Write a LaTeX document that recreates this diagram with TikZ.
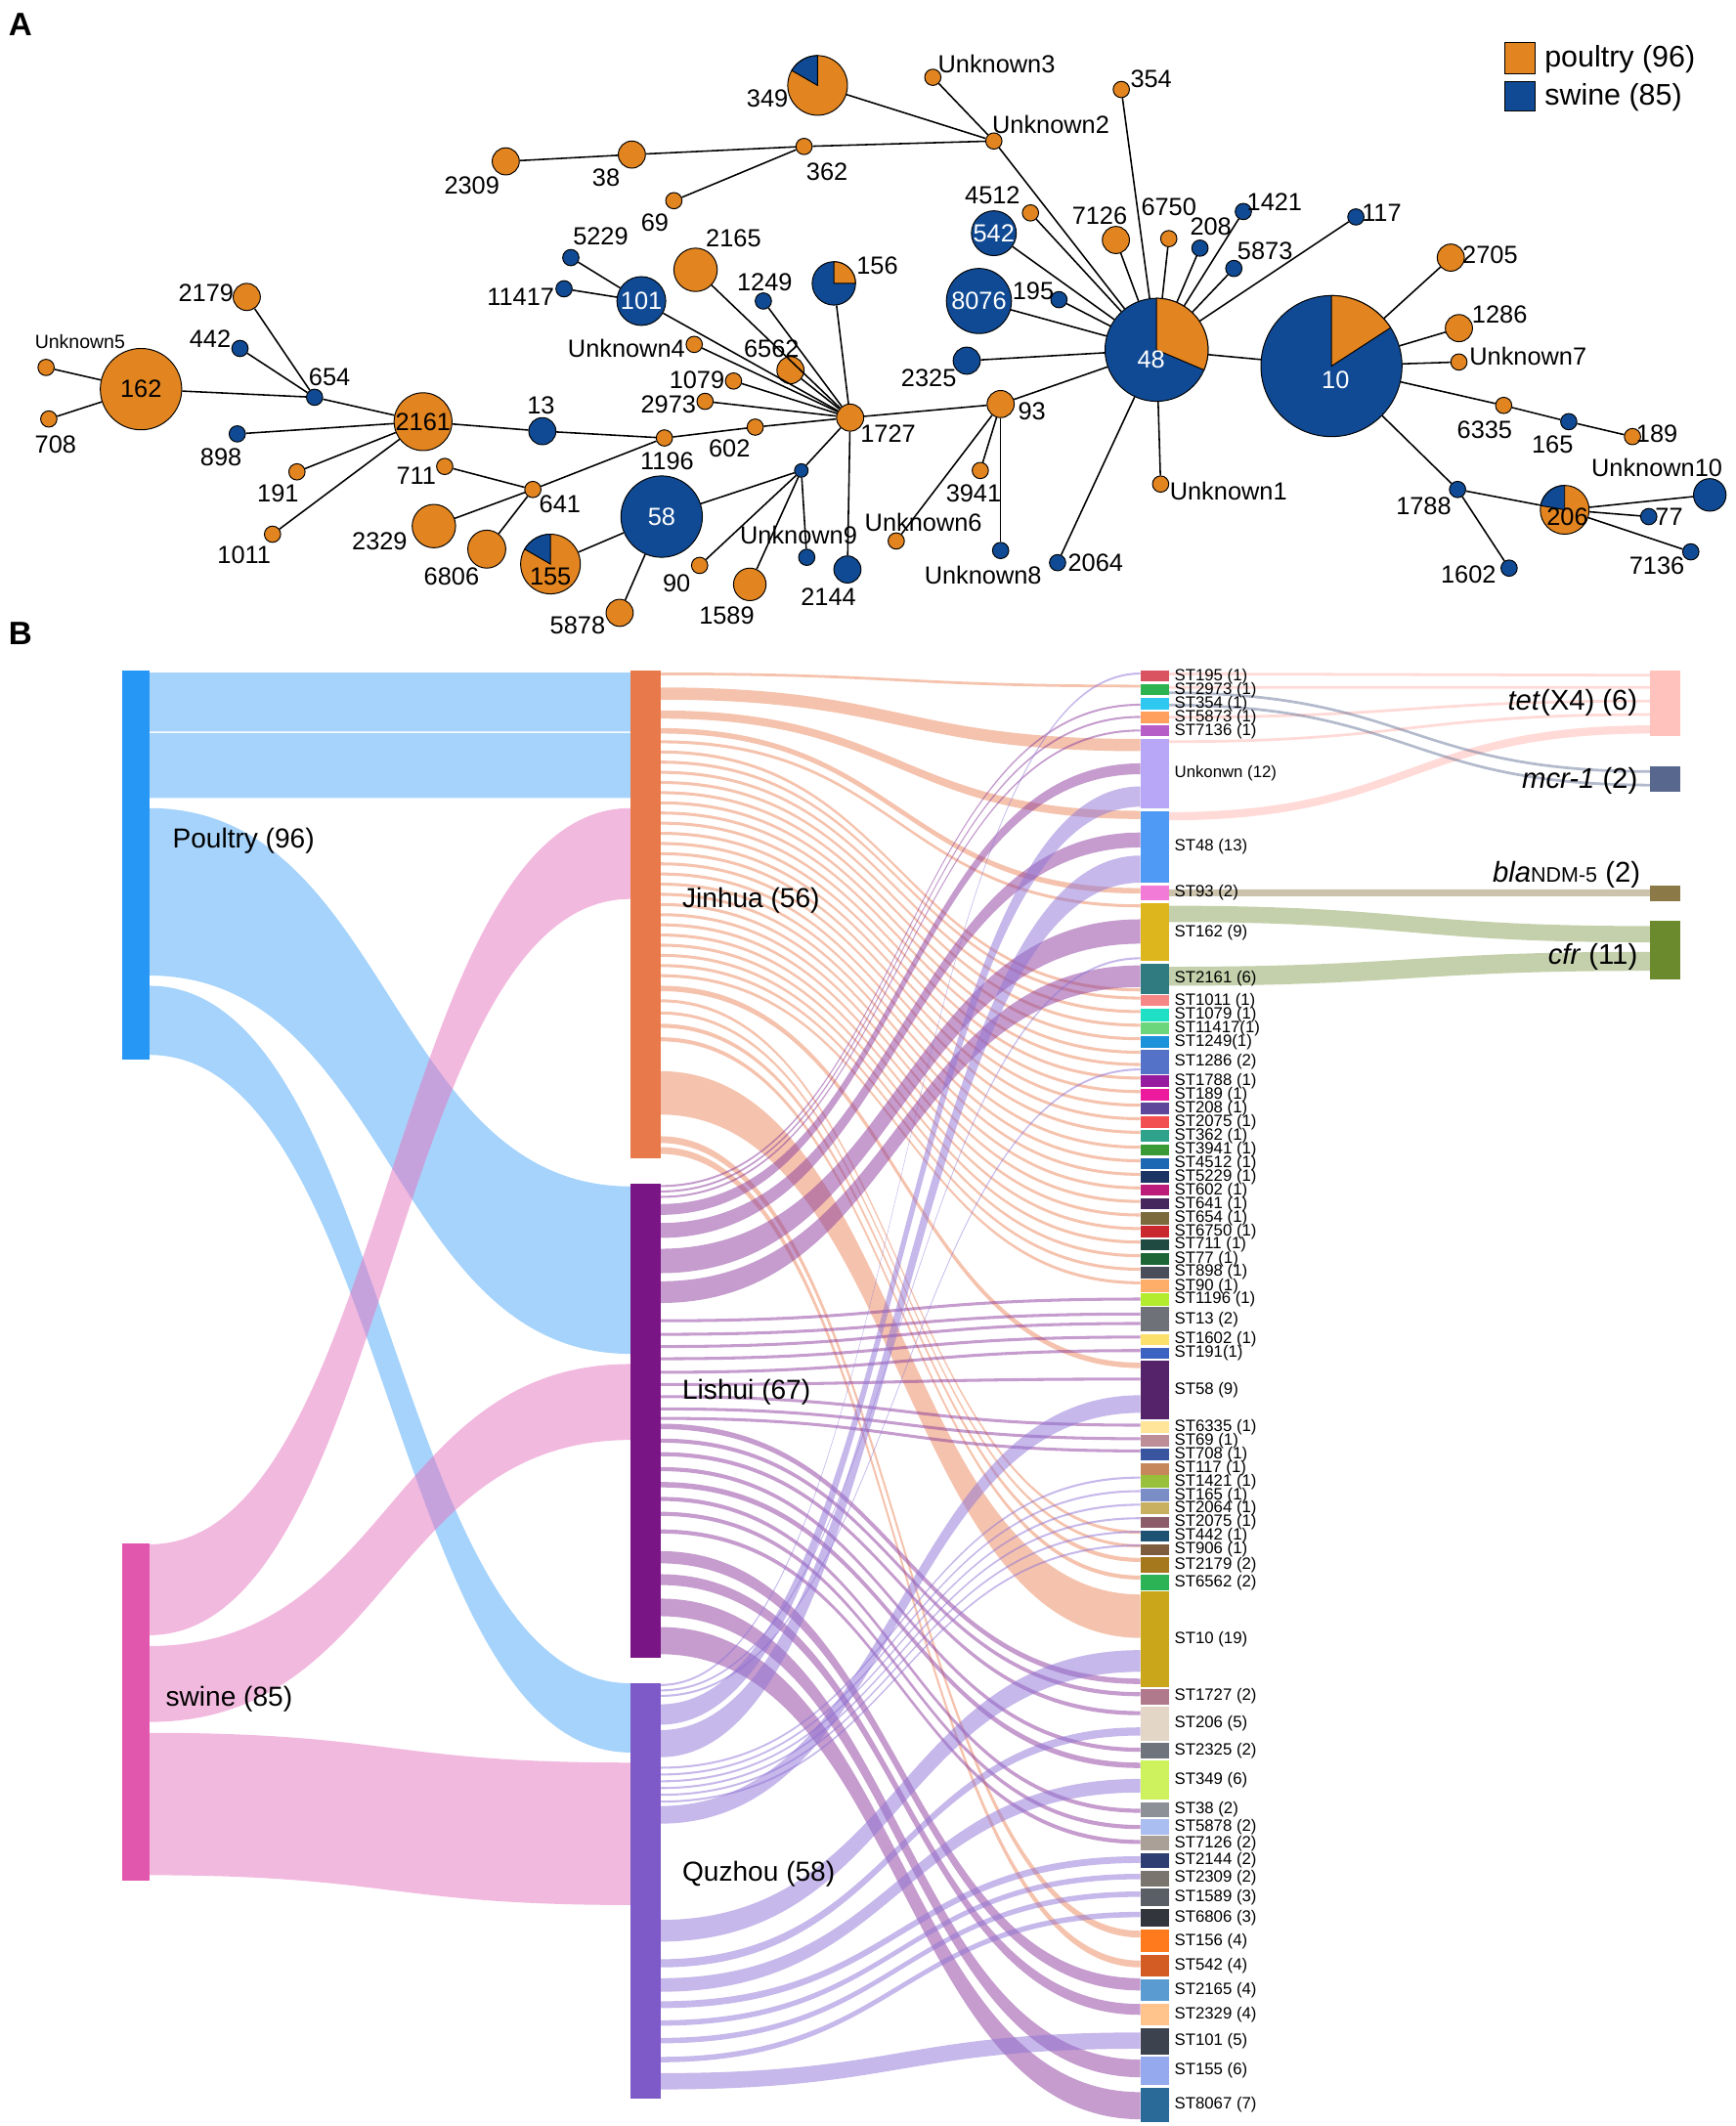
\documentclass[tikz,border=0pt]{standalone}
\usepackage{fontspec}
\setmainfont{Liberation Sans}

\definecolor{poultry}{HTML}{E2841F}
\definecolor{swine}{HTML}{104A94}
\definecolor{pbar}{HTML}{2697F5}
\definecolor{sbar}{HTML}{E157AE}
\definecolor{pflow}{HTML}{4DA8F7}
\definecolor{sflow}{HTML}{E673C0}
\definecolor{jbar}{HTML}{E8794A}
\definecolor{lbar}{HTML}{7A1585}
\definecolor{qbar}{HTML}{7E5AC8}
\definecolor{lflow}{HTML}{8B3A9C}
\definecolor{qflow}{HTML}{8E72D6}
\definecolor{tetc}{HTML}{FFC2BC}
\definecolor{mcrc}{HTML}{57678E}
\definecolor{blac}{HTML}{8B7A48}
\definecolor{cfrc}{HTML}{6B8A2E}

\newcommand{\netfont}{\fontsize{13}{15}\selectfont}
\newcommand{\unkfont}{\fontsize{10}{12}\selectfont}
\newcommand{\stfont}{\fontsize{8.6}{9}\selectfont}
\newcommand{\sankeyfont}{\fontsize{14.4}{17}\selectfont}
\newcommand{\genefont}{\fontsize{15}{18}\selectfont}

% band between two columns: x1, y1 (top), x2, y2 (top), width, style
\newcommand{\band}[6]{%
  \pgfmathsetmacro{\bxm}{(#1+#3)/2}%
  \pgfmathsetmacro{\bya}{#2+#5}%
  \pgfmathsetmacro{\byb}{#4+#5}%
  \fill[#6] (#1,#2) .. controls (\bxm,#2) and (\bxm,#4) .. (#3,#4) -- (#3,\byb) .. controls (\bxm,\byb) and (\bxm,\bya) .. (#1,\bya) -- cycle;}

% pie slice on a network node: node, radius, start, end, colour
\newcommand{\pieslice}[5]{%
  \filldraw[fill=#5, draw=black, line width=0.5pt] (#1.center) -- ++(#3:#2) arc[start angle=#3, end angle=#4, radius=#2] -- cycle;}

\tikzset{
  pn/.style={circle, draw=black, line width=0.5pt, fill=poultry, inner sep=0pt, minimum size=#1*0.05cm, font=\netfont},
  sn/.style={circle, draw=black, line width=0.5pt, fill=swine, inner sep=0pt, minimum size=#1*0.05cm, font=\netfont, text=white},
  nlink/.style={line width=0.8pt},
  lab/.style={font=\netfont, inner sep=0pt},
  stlab/.style={font=\stfont, inner sep=0pt, anchor=west},
  sankeytext/.style={font=\sankeyfont, inner sep=0pt, anchor=west},
  genetext/.style={font=\genefont, inner sep=0pt, anchor=east},
  pf/.style={fill=pflow, fill opacity=0.5},
  sf/.style={fill=sflow, fill opacity=0.5},
  jf/.style={fill=jbar, fill opacity=0.45},
  lf/.style={fill=lflow, fill opacity=0.5},
  qf/.style={fill=qflow, fill opacity=0.5},
  tf/.style={fill=tetc, fill opacity=0.6},
  mf/.style={fill=mcrc, fill opacity=0.45},
  bf/.style={fill=blac, fill opacity=0.45},
  cf/.style={fill=cfrc, fill opacity=0.4},
}

\begin{document}
\begin{tikzpicture}[x=0.025cm, y=-0.025cm]
\useasboundingbox (0,0) rectangle (1280,1568);

\node[font=\bfseries\fontsize{17}{17}\selectfont, inner sep=0pt] (pa) at (15,18) {A};
\node[font=\bfseries\fontsize{17}{17}\selectfont, inner sep=0pt] (pb) at (15,467) {B};

%% A: minimum spanning tree
% poultry nodes
\node[pn=22] (n349) at (603,63) {};
\node[pn=6] (u3) at (688,57) {};
\node[pn=6] (u2) at (733,104) {};
\node[pn=6] (n354) at (827,66) {};
\node[pn=6] (n362) at (593,108) {};
\node[pn=10] (n38) at (466,114) {};
\node[pn=10] (n2309) at (373,119) {};
\node[pn=6] (n69) at (497,148) {};
\node[pn=6] (n4512) at (760,157) {};
\node[pn=10] (n7126) at (823,177) {};
\node[pn=6] (n6750) at (862,176) {};
\node[pn=10] (n2705) at (1070,190) {};
\node[pn=10] (n1286) at (1076,242) {};
\node[pn=6] (u7) at (1076,267) {};
\node[pn=6] (n6335) at (1109,299) {};
\node[pn=6] (n189) at (1204,322) {};
\node[pn=6] (u1) at (856,357) {};
\node[pn=10] (n93) at (738,298) {};
\node[pn=6] (n3941) at (723,347) {};
\node[pn=6] (u6) at (661,399) {};
\node[pn=10] (n1727) at (627,308) {};
\node[pn=16] (n2165) at (513,199) {};
\node[pn=6] (u4) at (512,254) {};
\node[pn=10] (n6562) at (583,273) {};
\node[pn=6] (n1079) at (541,281) {};
\node[pn=6] (n2973) at (520,296) {};
\node[pn=6] (n602) at (557,315) {};
\node[pn=6] (n1196) at (490,323) {};
\node[pn=20] (n2161) at (312,311) {2161};
\node[pn=10] (n2179) at (182,219) {};
\node[pn=30] (n162) at (104,287) {162};
\node[pn=6] (u5) at (34,271) {};
\node[pn=6] (n708) at (36,309) {};
\node[pn=6] (n191) at (219,348) {};
\node[pn=6] (n1011) at (201,394) {};
\node[pn=6] (n711) at (328,344) {};
\node[pn=6] (n641) at (393,361) {};
\node[pn=16] (n2329) at (320,388) {};
\node[pn=14] (n6806) at (359,405) {};
\node[pn=22] (n155) at (406,416) {};
\node[pn=10] (n5878) at (457,452) {};
\node[pn=6] (n90) at (516,417) {};
\node[pn=12] (n1589) at (553,431) {};
\node[pn=18] (n206) at (1154,376) {};
% swine nodes
\node[sn=16] (n542) at (733,172) {542};
\node[sn=6] (n208) at (885,183) {};
\node[sn=6] (n1421) at (917,156) {};
\node[sn=6] (n5873) at (910,198) {};
\node[sn=6] (n117) at (1000,160) {};
\node[sn=6] (n195) at (781,221) {};
\node[sn=24] (n8076) at (722,222) {8076};
\node[sn=10] (n2325) at (713,266) {};
\node[sn=38] (n48) at (853,258) {};
\node[sn=52] (n10) at (982,270) {};
\node[sn=6] (n165) at (1157,311) {};
\node[sn=6] (n1788) at (1075,361) {};
\node[sn=6] (n1602) at (1113,419) {};
\node[sn=12] (u10) at (1261,365) {};
\node[sn=6] (n77) at (1216,381) {};
\node[sn=6] (n7136) at (1247,407) {};
\node[sn=6] (n2064) at (780,415) {};
\node[sn=6] (u8) at (738,406) {};
\node[sn=16] (n156) at (615,209) {};
\node[sn=6] (n1249) at (563,222) {};
\node[sn=18] (n101) at (473,222) {101};
\node[sn=6] (n5229) at (421,190) {};
\node[sn=6] (n11417) at (416,213) {};
\node[sn=10] (n13) at (400,318) {};
\node[sn=6] (n654) at (232,293) {};
\node[sn=6] (n442) at (177,257) {};
\node[sn=6] (n898) at (175,320) {};
\node[sn=30] (n58) at (488,381) {58};
\node[sn=5] (hub) at (591,347) {};
\node[sn=6] (u9) at (595,411) {};
\node[sn=10] (n2144) at (625,420) {};

% mixed nodes
\pieslice{n48}{0.95cm}{-23}{90}{poultry}
\pieslice{n10}{1.3cm}{33}{90}{poultry}
\pieslice{n156}{0.4cm}{0}{90}{poultry}
\pieslice{n349}{0.55cm}{90}{150}{swine}
\pieslice{n155}{0.55cm}{90}{150}{swine}
\pieslice{n206}{0.45cm}{90}{170}{swine}
\node[lab, text=white] (t48) at (849,265) {48};
\node[lab, text=white] (t10) at (985,280) {10};
\node[lab] (t155) at (406,425) {155};
\node[lab] (t206) at (1156,381) {206};

\foreach \a/\b in {n162/u5, n162/n708, n162/n654, n654/n2179, n654/n442, n654/n2161,
  n2161/n898, n2161/n191, n2161/n1011, n2161/n13, n13/n1196, n1196/n602, n602/n1727,
  n1196/n641, n641/n711, n641/n2329, n641/n6806, n155/n58, n58/n5878, n58/hub,
  hub/n1727, hub/n90, hub/n1589, hub/u9, n1727/n2144, n1727/n2973, n1727/n1079,
  n1727/u4, n1727/n6562, n1727/n101, n101/n5229, n101/n11417, n1727/n2165,
  n1727/n1249, n1727/n156, n1727/n93, n93/n3941, n93/u6, n93/u8, n93/n48,
  n48/n2325, n48/n8076, n48/n195, n48/n542, n48/n4512, n48/u2, n48/n7126,
  n48/n354, n48/n6750, n48/n208, n48/n1421, n48/n5873, n48/n117, n48/u1,
  n48/n2064, n48/n10, n10/n2705, n10/n1286, n10/u7, n10/n6335, n6335/n165,
  n165/n189, n10/n1788, n1788/n1602, n1788/n206, n206/u10, n206/n77, n206/n7136,
  n349/u2, n362/u2, n362/n38, n38/n2309, n362/n69, u3/u2}
  \draw[nlink] (\a) -- (\b);

% labels
\foreach \nm/\x/\y/\tx in {l349/566/73/349, lu3/735/47/Unknown3, lu2/775/92/Unknown2,
  l354/849/58/354, l362/610/127/362, l38/447/131/38, l2309/348/137/2309, l69/483/164/69,
  l4512/732/144/4512, l7126/811/159/7126, l6750/862/153/6750, l208/893/167/208,
  l1421/940/149/1421, l5873/933/185/5873, l117/1019/157/117, l195/762/215/195,
  l2325/685/279/2325, l2705/1099/188/2705, l1286/1106/232/1286, lu7/1127/263/Unknown7,
  l6335/1095/317/6335, l165/1145/328/165, l189/1222/320/189, l1788/1050/373/1788,
  l1602/1083/424/1602, lu10/1222/345/Unknown10, l77/1231/381/77, l7136/1222/417/7136,
  lu1/906/362/Unknown1, l2064/808/415/2064, l93/761/303/93, l3941/718/364/3941,
  lu6/681/385/Unknown6, lu8/725/424/Unknown8, l1727/655/320/1727, l156/647/196/156,
  l1249/564/208/1249, l2165/541/176/2165, l5229/443/174/5229, l11417/384/219/11417,
  lu4/462/257/Unknown4, l6562/569/257/6562, l1079/514/280/1079, l2973/493/298/2973,
  l602/538/331/602, l1196/492/340/1196, l13/399/299/13, l654/243/278/654,
  l442/155/250/442, l2179/152/216/2179, l708/41/328/708, l898/163/337/898,
  l191/205/364/191, l1011/180/409/1011, l711/307/351/711, l641/413/372/641,
  l2329/280/399/2329, l6806/333/425/6806, l5878/426/461/5878, lu9/589/395/Unknown9,
  l90/499/430/90, l1589/536/454/1589, l2144/611/440/2144}
  \node[lab] (\nm) at (\x,\y) {\tx};
\node[font=\unkfont, inner sep=0pt] (lu5) at (59,252) {Unknown5};

% legend
\node[draw=black, fill=poultry, minimum width=0.55cm, minimum height=0.575cm, inner sep=0pt] (legp) at (1121,42.5) {};
\node[draw=black, fill=swine, minimum width=0.55cm, minimum height=0.55cm, inner sep=0pt] (legs) at (1121,71) {};
\node[font=\fontsize{15.6}{18}\selectfont, inner sep=0pt, anchor=west] (legpt) at (1139,44) {poultry (96)};
\node[font=\fontsize{15.6}{18}\selectfont, inner sep=0pt, anchor=west] (legst) at (1139,72) {swine (85)};

%% B: sankey
% host -> city
\band{110}{496}{465}{496}{43.5}{pf}
\band{110}{540.5}{465}{540.5}{48}{pf}
\band{110}{596}{465}{875}{123.5}{pf}
\band{110}{727}{465}{1241.5}{51}{pf}
\band{110}{1139}{465}{596}{67}{sf}
\band{110}{1214}{465}{1006}{56}{sf}
\band{110}{1278}{465}{1300}{105}{sf}

% city -> ST
\foreach \s/\w/\d in {496/2/505, 507/9/545, 524/6/598, 537/4/655, 727/4/1005,
  737/2.2/1129, 746/2.2/1139, 755/3/1149, 765/3/1162, 790/32/1176, 838/5/1424, 846/5/1446}
  {\band{487}{\s}{841}{\d}{\w}{jf}}
\foreach \d [count=\k from 0] in {667,729,735,745,755,765,775,784,794,804,814,824,
  834,845,855,865,875,885,895,905,915,925,935,945}
  {\pgfmathsetmacro{\s}{546+7.5*\k}\band{487}{\s}{841}{\d}{2.2}{jf}}
\foreach \s/\w/\d in {874/1.5/519, 878/1.5/528, 882/1.5/538, 888/8/563, 902/11/614,
  921/18/678, 945/16/712, 973/2.2/957, 983/2.2/968, 992/2.2/975, 1001/2.2/985,
  1011/2.2/995, 1020/2.2/1016, 1029/2.2/1050, 1038/2.2/1060, 1045/2.2/1069,
  1050/4/1238, 1061/3/1248, 1071/3/1262, 1082/3/1289, 1093/4/1300, 1104/3/1334,
  1115/3/1346, 1128/3/1357, 1144/9/1459, 1161/8/1478, 1179/13/1519, 1200/20/1543}
  {\band{487}{\s}{841}{\d}{\w}{lf}}
\foreach \s/\w/\d in {1242/1.5/496, 1246/1.5/706, 1250/1.5/788, 1257/15/580,
  1276/20/631, 1303/1.5/1089, 1308/1.5/1099, 1313/1.5/1109, 1318/1.5/1119,
  1323/1.5/1129, 1328/1.5/1139, 1332/13/1029, 1416/16/1217, 1445/6/1274,
  1459/10/1312, 1476/5/1369, 1490/4/1382, 1503/4/1395, 1517/4/1410, 1529/12/1499}
  {\band{487}{\s}{841}{\d}{\w}{qf}}

% ST -> gene
\foreach \s/\w/\d in {496/2/497, 506/2/506, 528/2/516, 546/2/526, 599/6/535}
  {\band{862}{\s}{1217}{\d}{\w}{tf}}
\band{862}{510}{1217}{568}{2}{mf}
\band{862}{519}{1217}{578}{2}{mf}
\band{862}{656}{1217}{656}{5}{bf}
\band{862}{668}{1217}{683}{12}{cf}
\band{862}{713}{1217}{702}{14}{cf}

% bars
\fill[pbar] (90,494.5) rectangle (110,781.7);
\fill[sbar] (90,1138) rectangle (110,1387);
\fill[jbar] (465,494.5) rectangle (487,854.6);
\fill[lbar] (465,873) rectangle (487,1223);
\fill[qbar] (465,1241.5) rectangle (487,1547.6);
\fill[tetc] (1217,494.7) rectangle (1239,543);
\fill[mcrc] (1217,565.4) rectangle (1239,584);
\fill[blac] (1217,653.5) rectangle (1239,665);
\fill[cfrc] (1217,679) rectangle (1239,722.6);

\foreach \t/\b/\c/\l [count=\i] in {494.7/502.6/D95460/ST195 (1), 504.8/512.9/2DB34F/ST2973 (1),
  515/523.5/2EC8F0/ST354 (1), 525/533.6/FFA05E/ST5873 (1), 535/543/B65DC8/ST7136 (1),
  545/596/B8A6F6/Unkonwn (12), 598/651/4E9AF5/ST48 (13), 653/664/F27BD8/ST93 (2),
  666/709/DDB51C/ST162 (9), 711/733/2F7B80/ST2161 (6), 734/742/F68787/ST1011 (1),
  744/753/1FE0C4/ST1079 (1), 754/763/6CD67C/ST11417(1), 764/773/1C92DA/ST1249(1),
  774.5/792/5472C8/ST1286 (2), 793/802/961B9E/ST1788 (1), 803/812/EE1A9E/ST189 (1),
  813.5/822/5E479A/ST208 (1), 823.5/832/F25050/ST2075 (1), 833.6/842/2EA28A/ST362 (1),
  844/852/3A9A36/ST3941 (1), 854/862/1C68B2/ST4512 (1), 864/872.5/1C3464/ST5229 (1),
  874/882/BC1B7A/ST602 (1), 884/892/45275E/ST641 (1), 894/903/7B6A3C/ST654 (1),
  904/913/C8282E/ST6750 (1), 914/922/1F4A42/ST711 (1), 924.5/932.6/1F6636/ST77 (1),
  934/942.6/4A4E5A/ST898 (1), 944/953/FFAE6A/ST90 (1), 954/963/B3EC2E/ST1196 (1),
  964/982/6E7178/ST13 (2), 983.7/992/FCE06C/ST1602 (1), 994/1002/3C62C2/ST191(1),
  1003.6/1046.8/55236A/ST58 (9), 1048/1057/FFE59A/ST6335 (1), 1058/1067/BD8D98/ST69 (1),
  1068.5/1077/3A55A0/ST708 (1), 1079/1087.5/C6885A/ST117 (1), 1088/1097.5/98C03A/ST1421 (1),
  1098/1107.5/7B8DC6/ST165 (1), 1108/1117/C8B060/ST2064 (1), 1118.5/1127/8C5C6A/ST2075 (1),
  1128.6/1137/1E5272/ST442 (1), 1138.7/1147/7E5C3E/ST906 (1), 1148.6/1160/A6781E/ST2179 (2),
  1161.6/1172.6/2BB356/ST6562 (2), 1174/1244/CAA71A/ST10 (19), 1245.5/1257/B07A8C/ST1727 (2),
  1258.5/1284/E3D6C6/ST206 (5), 1285.5/1296.7/6E737C/ST2325 (2), 1298.5/1327/CDF25E/ST349 (6),
  1329/1340/8E9098/ST38 (2), 1341.3/1353/AABEF2/ST5878 (2), 1354/1365/AAA098/ST7126 (2),
  1366.6/1378/2E3E72/ST2144 (2), 1379.6/1391/7A746E/ST2309 (2), 1392.5/1406/5A5E66/ST1589 (3),
  1407.7/1421/33353C/ST6806 (3), 1423/1440/FF7A1C/ST156 (4), 1441.6/1458/D25C24/ST542 (4),
  1459.6/1476/5A9CD2/ST2165 (4), 1477.6/1494/FFC48C/ST2329 (4), 1495.7/1515/3C424E/ST101 (5),
  1516.6/1538/94A9EE/ST155 (6), 1540/1565/2A6A98/ST8067 (7)}
{
  \definecolor{stc}{HTML}{\c}
  \fill[stc] (841,\t) rectangle (862,\b);
  \node[stlab] (st\i) at (866,{(\t+\b)/2}) {\l};
}

% texts
\node[sankeytext] (poultry) at (127,620) {Poultry (96)};
\node[sankeytext] (swine) at (122,1253) {swine (85)};
\node[sankeytext] (jinhua) at (503,664) {Jinhua (56)};
\node[sankeytext] (lishui) at (503,1027) {Lishui (67)};
\node[sankeytext] (quzhou) at (503,1382) {Quzhou (58)};
\node[genetext] (tet) at (1208,518) {\textit{tet}(X4) (6)};
\node[genetext] (mcr) at (1208,576) {\textit{mcr-1} (2)};
\node[genetext] (bla) at (1210,645) {\textit{bla}{\fontsize{11}{12}\selectfont NDM-5} (2)};
\node[genetext] (cfr) at (1208,706) {\textit{cfr} (11)};
\end{tikzpicture}
\end{document}
